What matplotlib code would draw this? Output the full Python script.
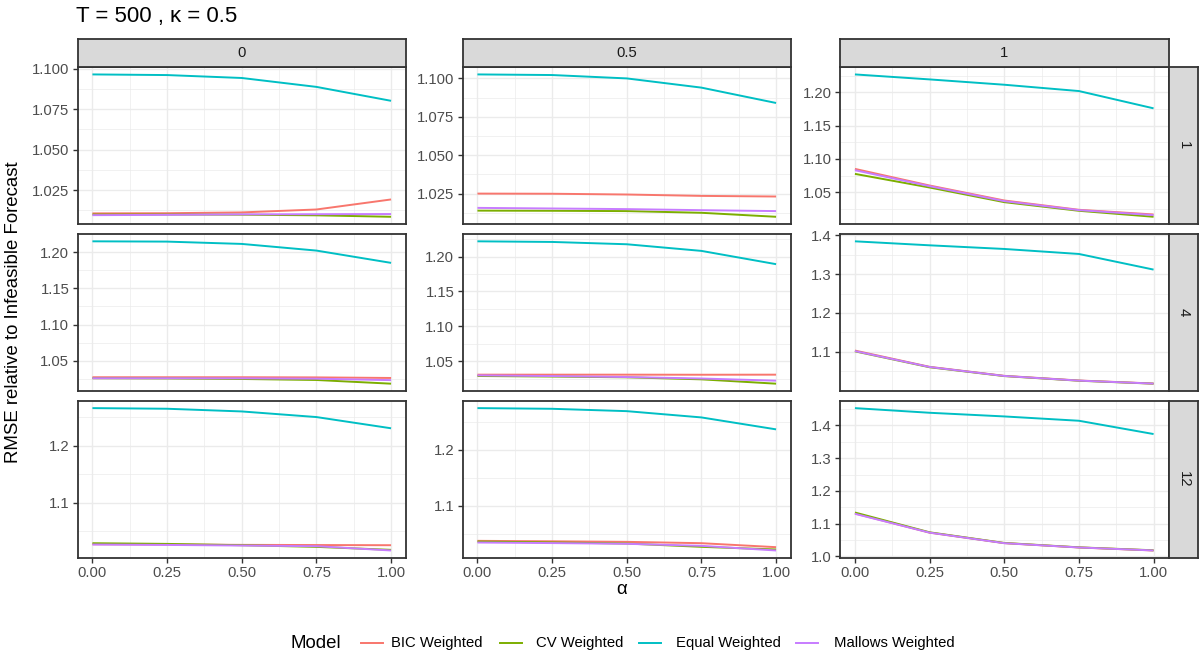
import matplotlib
matplotlib.use("Agg")
import matplotlib.pyplot as plt
from matplotlib.ticker import MultipleLocator, FixedLocator, FormatStrFormatter
from matplotlib.lines import Line2D
import numpy as np

plt.rcParams['font.family'] = ['Liberation Sans', 'DejaVu Sans']

# ---------------- data ----------------
alpha = [0.0, 0.25, 0.5, 0.75, 1.0]
col_labels = ["0", "0.5", "1"]
row_labels = ["1", "4", "12"]
models = ["BIC Weighted", "CV Weighted", "Equal Weighted", "Mallows Weighted"]
colors = ["#F8766D", "#7CAE00", "#00BFC4", "#C77CFF"]

# values[row][col] -> 5 values over alpha
bic = [
    [[1.0107, 1.0108, 1.0113, 1.0131, 1.0193],
     [1.0250, 1.0249, 1.0244, 1.0235, 1.0231],
     [1.0850, 1.0600, 1.0375, 1.0235, 1.0165]],
    [[1.0272, 1.0272, 1.0272, 1.0270, 1.0262],
     [1.0310, 1.0310, 1.0310, 1.0309, 1.0310],
     [1.1030, 1.0610, 1.0378, 1.0258, 1.0180]],
    [[1.0277, 1.0272, 1.0266, 1.0263, 1.0260],
     [1.0373, 1.0365, 1.0355, 1.0331, 1.0260],
     [1.1310, 1.0725, 1.0405, 1.0272, 1.0180]],
]
cv = [
    [[1.0100, 1.0100, 1.0099, 1.0095, 1.0086],
     [1.0139, 1.0138, 1.0136, 1.0125, 1.0099],
     [1.0775, 1.0570, 1.0350, 1.0220, 1.0130]],
    [[1.0258, 1.0255, 1.0248, 1.0234, 1.0183],
     [1.0291, 1.0283, 1.0272, 1.0243, 1.0181],
     [1.1010, 1.0600, 1.0372, 1.0252, 1.0176]],
    [[1.0295, 1.0283, 1.0260, 1.0231, 1.0179],
     [1.0361, 1.0345, 1.0325, 1.0266, 1.0219],
     [1.1340, 1.0735, 1.0410, 1.0276, 1.0186]],
]
equal = [
    [[1.0965, 1.0961, 1.0943, 1.0888, 1.0802],
     [1.1026, 1.1022, 1.1000, 1.0940, 1.0840],
     [1.2270, 1.2195, 1.2115, 1.2020, 1.1760]],
    [[1.2151, 1.2147, 1.2115, 1.2023, 1.1853],
     [1.2218, 1.2209, 1.2176, 1.2081, 1.1891],
     [1.3846, 1.3743, 1.3649, 1.3520, 1.3117]],
    [[1.2653, 1.2642, 1.2595, 1.2497, 1.2301],
     [1.2740, 1.2728, 1.2686, 1.2574, 1.2361],
     [1.4528, 1.4386, 1.4274, 1.4142, 1.3736]],
]
mallows = [
    [[1.0096, 1.0098, 1.0101, 1.0102, 1.0103],
     [1.0157, 1.0153, 1.0149, 1.0142, 1.0136],
     [1.0830, 1.0590, 1.0365, 1.0230, 1.0155]],
    [[1.0258, 1.0258, 1.0257, 1.0252, 1.0232],
     [1.0300, 1.0290, 1.0276, 1.0255, 1.0224],
     [1.1017, 1.0606, 1.0375, 1.0255, 1.0178]],
    [[1.0272, 1.0265, 1.0254, 1.0243, 1.0168],
     [1.0343, 1.0333, 1.0320, 1.0284, 1.0201],
     [1.1300, 1.0725, 1.0403, 1.0272, 1.0181]],
]
series = [bic, cv, equal, mallows]

x_ticks = [0.0, 0.25, 0.5, 0.75, 1.0]
y_ticks = [
    [[1.025, 1.050, 1.075, 1.100], [1.025, 1.050, 1.075, 1.100], [1.05, 1.10, 1.15, 1.20]],
    [[1.05, 1.10, 1.15, 1.20], [1.05, 1.10, 1.15, 1.20], [1.1, 1.2, 1.3, 1.4]],
    [[1.1, 1.2], [1.1, 1.2], [1.0, 1.1, 1.2, 1.3, 1.4]],
]
y_fmt = [
    ["%.3f", "%.3f", "%.2f"],
    ["%.2f", "%.2f", "%.1f"],
    ["%.1f", "%.1f", "%.1f"],
]

# ---------------- layout ----------------
W, H = 1199, 658
fig = plt.figure(figsize=(W / 100, H / 100), dpi=100)
fig.patch.set_facecolor("white")


def rect(l, t, w, h):
    return [l / W, 1 - (t + h) / H, w / W, h / H]


col_left = [77.5, 462.5, 840.0]
pw = 328.5
row_top = [67.3, 234.2, 401.0]
ph = 156.6
strip_top = 38.7
strip_h = 28.6
rstrip_l = 1169.0
rstrip_w = 29.0

border_c = "#333333"
grid_c = "#EBEBEB"
tick_c = "#4D4D4D"
fs_tick = 10.7

for r in range(3):
    for c in range(3):
        ax = fig.add_axes(rect(col_left[c], row_top[r], pw, ph))
        ax.set_facecolor("white")
        for s, vals in enumerate(series):
            ax.plot(alpha, vals[r][c], color=colors[s], lw=1.4, solid_capstyle="butt", zorder=3)
        allv = np.concatenate([np.array(v[r][c]) for v in series])
        lo, hi = allv.min(), allv.max()
        pad = 0.05 * (hi - lo)
        ax.set_ylim(lo - pad, hi + pad)
        ax.set_xlim(-0.05, 1.05)
        yt = y_ticks[r][c]
        ax.yaxis.set_major_locator(FixedLocator(yt))
        ax.yaxis.set_minor_locator(MultipleLocator((yt[1] - yt[0]) / 2))
        ax.yaxis.set_major_formatter(FormatStrFormatter(y_fmt[r][c]))
        ax.xaxis.set_major_locator(FixedLocator(x_ticks))
        ax.xaxis.set_minor_locator(MultipleLocator(0.125))
        ax.grid(which="major", color=grid_c, lw=1.0, zorder=0)
        ax.grid(which="minor", color=grid_c, lw=0.5, zorder=0)
        ax.set_axisbelow(True)
        for sp in ax.spines.values():
            sp.set_color(border_c)
            sp.set_linewidth(1.3)
            sp.set_zorder(5)
        ax.tick_params(which="major", length=3.4, width=1.0, color=border_c,
                       labelsize=fs_tick, labelcolor=tick_c, pad=2.5)
        ax.tick_params(which="minor", length=0)
        if r < 2:
            ax.tick_params(axis="x", which="both", labelbottom=False, length=0)

# top strips
for c in range(3):
    sax = fig.add_axes(rect(col_left[c], strip_top, pw, strip_h))
    sax.set_facecolor("#D9D9D9")
    sax.set_xticks([]); sax.set_yticks([])
    for sp in sax.spines.values():
        sp.set_color(border_c); sp.set_linewidth(1.3)
    sax.text(0.5, 0.5, col_labels[c], ha="center", va="center", fontsize=fs_tick,
             color="#1A1A1A", transform=sax.transAxes)

# right strips
for r in range(3):
    sax = fig.add_axes(rect(rstrip_l, row_top[r], rstrip_w, ph))
    sax.set_facecolor("#D9D9D9")
    sax.set_xticks([]); sax.set_yticks([])
    for sp in sax.spines.values():
        sp.set_color(border_c); sp.set_linewidth(1.3)
    sax.text(0.5, 0.5, row_labels[r], ha="center", va="center", fontsize=fs_tick,
             color="#1A1A1A", rotation=-90, transform=sax.transAxes)

# titles
fig.text(76 / W, 1 - 21.7 / H, "T = 500 , κ = 0.5", ha="left", va="baseline",
         fontsize=16, color="black")
fig.text(14 / W, 1 - 312 / H, "RMSE relative to Infeasible Forecast", rotation=90,
         ha="center", va="center", fontsize=13.4, color="black")
fig.text(622 / W, 1 - 590 / H, "α", ha="center", va="center", fontsize=13.4, color="black")

# legend
leg_y = 643
fig.text(291 / W, 1 - leg_y / H, "Model", ha="left", va="center", fontsize=13.4, color="black")
key_centers = [372, 511, 650, 807]
text_left = [391, 536, 676, 834]
for k in range(4):
    fig.add_artist(Line2D([(key_centers[k] - 11) / W, (key_centers[k] + 11) / W],
                          [1 - leg_y / H, 1 - leg_y / H], color=colors[k], lw=1.4,
                          transform=fig.transFigure))
    fig.text(text_left[k] / W, 1 - leg_y / H, models[k], ha="left", va="center",
             fontsize=fs_tick, color="black")

fig.savefig("out.png", dpi=100, facecolor="white")
